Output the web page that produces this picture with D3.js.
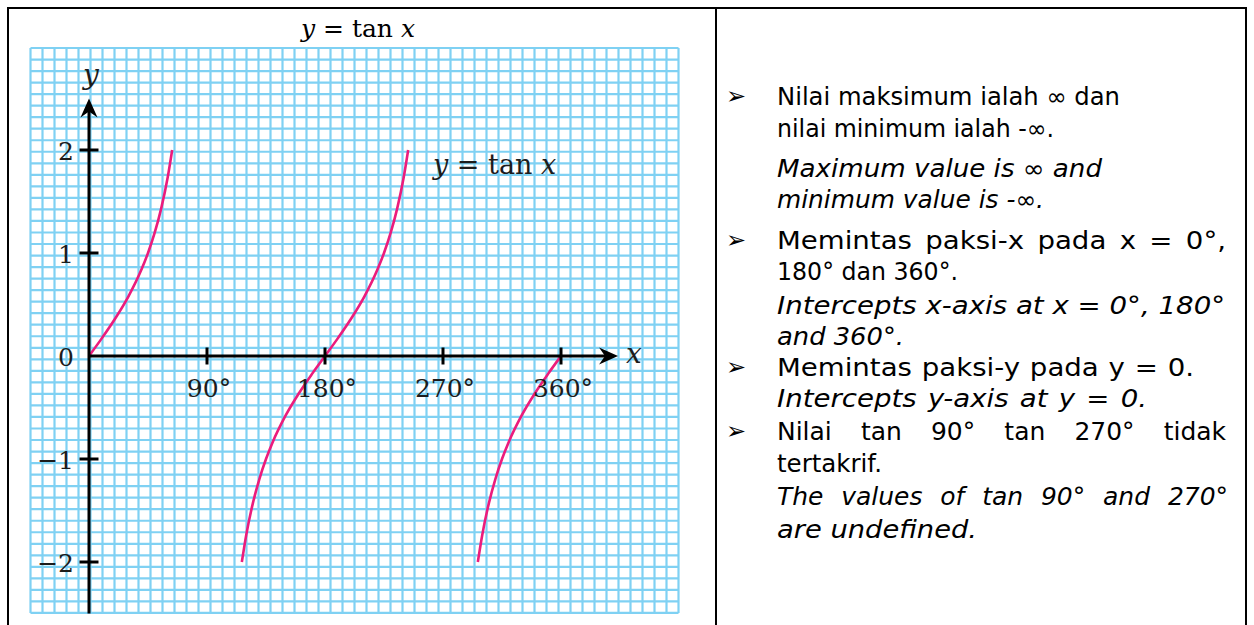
<!DOCTYPE html>
<html>
<head>
<meta charset="utf-8">
<script src="https://cdn.jsdelivr.net/npm/d3@7"></script>
<style>
  html, body { margin: 0; padding: 0; background: #fff; }
  svg { display: block; }
</style>
</head>
<body>
<svg id="chart" width="1254" height="625"></svg>
<script>
// ---- data ----
const xTicks = [90, 180, 270, 360];
const xTickLabels = ["90°", "180°", "270°", "360°"];
const yTicks = [-2, -1, 0, 1, 2];
const yTickLabels = ["−2", "−1", "0", "1", "2"];

// y = tan x, three visible branches (degrees, value)
const branch1Deg = [0, 10, 20, 30, 40, 45, 50, 55, 60, 63.43];
const branch1Tan = [0, 0.176, 0.364, 0.577, 0.839, 1, 1.192, 1.428, 1.732, 2];
const branch2Deg = [116.57, 120, 125, 130, 135, 140, 150, 160, 170, 180, 190, 200, 210, 220, 225, 230, 235, 240, 243.43];
const branch2Tan = [-2, -1.732, -1.428, -1.192, -1, -0.839, -0.577, -0.364, -0.176, 0, 0.176, 0.364, 0.577, 0.839, 1, 1.192, 1.428, 1.732, 2];
const branch3Deg = [296.57, 300, 305, 310, 315, 320, 330, 340, 350, 360];
const branch3Tan = [-2, -1.732, -1.428, -1.192, -1, -0.839, -0.577, -0.364, -0.176, 0];

// notes panel: [bullet?, italic?, text]
const noteLines = [
  [true,  false, "Nilai maksimum ialah  ∞ dan"],
  [false, false, "nilai minimum ialah -∞."],
  [false, true,  "Maximum value is ∞ and"],
  [false, true,  "minimum value is -∞."],
  [true,  false, "Memintas paksi-x pada x = 0°,"],
  [false, false, "180° dan 360°."],
  [false, true,  "Intercepts x-axis at x = 0°, 180°"],
  [false, true,  "and 360°."],
  [true,  false, "Memintas paksi-y pada y = 0."],
  [false, true,  "Intercepts y-axis at y = 0."],
  [true,  false, "Nilai tan 90° tan 270° tidak"],
  [false, false, "tertakrif."],
  [false, true,  "The values of tan 90° and 270°"],
  [false, true,  "are undefined."]
];

// ---- layout ----
// per-line text layout in the notes column: baseline y, right edge x, justified?
const noteLayout = [
  [105, 1120, false], [137, 1054, false], [177, 1102, false], [208, 1044, false],
  [249, 1226, false], [280, 958, false], [314, 1225, false], [345, 904, false],
  [376, 1194, false], [407, 1147, false], [440, 1226, true], [472, 882, false],
  [505, 1228, true], [538, 977, false]
];

const svg = d3.select("#chart");
const serif = "'DejaVu Serif', serif";
const ink = "#1c1c1c";
const curveColor = "#ec1c7c";

const x = d3.scaleLinear().domain([0, 360]).range([89, 561]);
const y = d3.scaleLinear().domain([-2, 2]).range([562, 150]);

const xAxisEnd = 403.5;   // arrow tip, degrees
const yAxisTop = 2.5;     // arrow tip, value
const yAxisBottom = -2.5;

// table frame
const frame = svg.append("g").attr("stroke", "#000").attr("stroke-width", 2).attr("fill", "none");
frame.append("line").attr("x1", 7).attr("x2", 1247).attr("y1", 8).attr("y2", 8);
frame.append("line").attr("x1", 8).attr("x2", 8).attr("y1", 7).attr("y2", 625);
frame.append("line").attr("x1", 716).attr("x2", 716).attr("y1", 7).attr("y2", 625);
frame.append("line").attr("x1", 1246).attr("x2", 1246).attr("y1", 7).attr("y2", 625);

// title
const title = svg.append("text")
  .attr("x", 358).attr("y", 37)
  .attr("text-anchor", "middle")
  .attr("font-family", serif).attr("font-size", 25).attr("fill", "#000");
title.append("tspan").attr("font-style", "italic").text("y");
title.append("tspan").text(" = tan ");
title.append("tspan").attr("font-style", "italic").text("x");

// graph paper
const gridLeft = 30.5, gridTop = 48, cellW = 12.0, cellH = 11.53, cols = 54, rows = 49;
const grid = svg.append("g").attr("stroke", "#7fd1f3").attr("stroke-width", 2.2);
grid.selectAll("line.v").data(d3.range(cols + 1)).join("line").attr("class", "v")
  .attr("x1", i => gridLeft + i * cellW).attr("x2", i => gridLeft + i * cellW)
  .attr("y1", gridTop).attr("y2", gridTop + rows * cellH);
grid.selectAll("line.h").data(d3.range(rows + 1)).join("line").attr("class", "h")
  .attr("y1", j => gridTop + j * cellH).attr("y2", j => gridTop + j * cellH)
  .attr("x1", gridLeft).attr("x2", gridLeft + cols * cellW);

// curves
const line = d3.line().x(d => x(d[0])).y(d => y(d[1])).curve(d3.curveMonotoneX);
const branches = [
  d3.zip(branch1Deg, branch1Tan),
  d3.zip(branch2Deg, branch2Tan),
  d3.zip(branch3Deg, branch3Tan)
];
svg.append("g").selectAll("path").data(branches).join("path")
  .attr("d", line)
  .attr("fill", "none").attr("stroke", curveColor).attr("stroke-width", 2.6);

// axes
const axes = svg.append("g").attr("stroke", "#000").attr("stroke-width", 3);
const x0 = x(0), y0 = y(0);
const xTip = x(xAxisEnd), yTip = y(yAxisTop);
axes.append("line").attr("x1", x0).attr("x2", xTip - 10).attr("y1", y0).attr("y2", y0);
axes.append("line").attr("x1", x0).attr("x2", x0).attr("y1", y(yAxisBottom)).attr("y2", yTip + 10);

axes.selectAll("line.xt").data(xTicks).join("line").attr("class", "xt")
  .attr("x1", d => x(d)).attr("x2", d => x(d)).attr("y1", y0 - 8.5).attr("y2", y0 + 8.5);
axes.selectAll("line.yt").data(yTicks.filter(d => d !== 0)).join("line").attr("class", "yt")
  .attr("y1", d => y(d)).attr("y2", d => y(d)).attr("x1", x0 - 9.5).attr("x2", x0 + 9.5);

// arrowheads
svg.append("path")
  .attr("d", `M${x0},${yTip} L${x0 - 8.5},${yTip + 19} L${x0},${yTip + 13} L${x0 + 8.5},${yTip + 19} Z`)
  .attr("fill", "#000");
svg.append("path")
  .attr("d", `M${xTip},${y0} L${xTip - 19},${y0 - 8.5} L${xTip - 13},${y0} L${xTip - 19},${y0 + 8.5} Z`)
  .attr("fill", "#000");

// tick labels
const labels = svg.append("g").attr("font-family", serif).attr("font-size", 25).attr("fill", ink);
labels.selectAll("text.xl").data(xTicks).join("text").attr("class", "xl")
  .attr("x", d => x(d) + 2).attr("y", y0 + 41)
  .attr("text-anchor", "middle")
  .text((d, i) => xTickLabels[i]);
labels.selectAll("text.yl").data(yTicks).join("text").attr("class", "yl")
  .attr("x", x0 - 15).attr("y", d => y(d) + 10)
  .attr("text-anchor", "end")
  .text((d, i) => yTickLabels[i]);

// axis names
svg.append("text").attr("x", x0 + 2).attr("y", 84).attr("text-anchor", "middle")
  .attr("font-family", serif).attr("font-style", "italic").attr("font-size", 28).attr("fill", ink).text("y");
svg.append("text").attr("x", xTip + 8).attr("y", y0 + 7)
  .attr("font-family", serif).attr("font-style", "italic").attr("font-size", 28).attr("fill", ink).text("x");

// curve label
const cl = svg.append("text").attr("x", 433).attr("y", 174)
  .attr("font-family", serif).attr("font-size", 27).attr("fill", ink);
cl.append("tspan").attr("font-style", "italic").text("y");
cl.append("tspan").text(" = tan ");
cl.append("tspan").attr("font-style", "italic").text("x");

// notes panel: each line is laid out word by word; the extra width goes first
// into a glyph stretch (capped) and what is left into the gaps between words.
// Justified lines keep plain glyphs and spread only the gaps.
const notes = svg.append("g").attr("font-family", "'DejaVu Sans', sans-serif").attr("font-size", 24).attr("fill", "#000");
const textLeft = 777;
const spaceW = 24 * 0.318;
noteLines.forEach(([bullet, italic, txt], i) => {
  const [by, right, justify] = noteLayout[i];
  if (bullet) {
    notes.append("text").attr("x", 726).attr("y", by - 1).attr("font-size", 24).text("➢");
  }
  const target = right - textLeft;
  const words = txt.split(/ +/);
  const nodes = words.map(w => notes.append("text").attr("y", by)
    .attr("font-style", italic ? "italic" : "normal").text(w));
  const raw = nodes.map(n => n.node().getComputedTextLength());
  if (words.length === 1) {
    nodes[0].attr("x", textLeft).attr("textLength", target).attr("lengthAdjust", "spacingAndGlyphs");
    return;
  }
  const natural = d3.sum(raw) + spaceW * (words.length - 1);
  const stretch = justify ? 1.04 : Math.max(0.95, Math.min(1.15, target / natural));
  const widths = raw.map(w => w * stretch);
  const gap = (target - d3.sum(widths)) / (words.length - 1);
  let cx = textLeft;
  nodes.forEach((n, k) => {
    n.attr("x", cx).attr("textLength", widths[k]).attr("lengthAdjust", "spacingAndGlyphs");
    cx += widths[k] + gap;
  });
});
</script>
</body>
</html>
